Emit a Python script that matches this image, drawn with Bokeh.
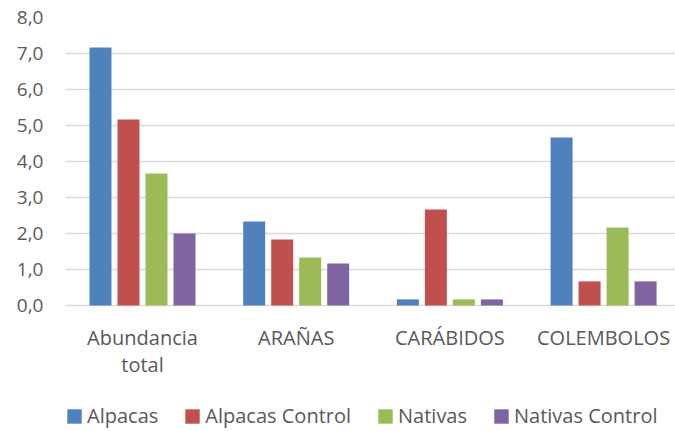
from bokeh.plotting import figure
from bokeh.models import ColumnDataSource, Range1d, FixedTicker, Legend, LegendItem
from bokeh.core.properties import value
from bokeh.transform import dodge
from bokeh.embed import file_html
from bokeh.resources import INLINE

# ---- data ----
categories = ["Abundancia\ntotal", "ARAÑAS", "CARÁBIDOS", "COLEMBOLOS"]
series_names = ["Alpacas", "Alpacas Control", "Nativas", "Nativas Control"]
alpacas = [7.17, 2.33, 0.17, 4.67]
alpacas_control = [5.17, 1.83, 2.67, 0.67]
nativas = [3.67, 1.33, 0.17, 2.17]
nativas_control = [2.0, 1.17, 0.17, 0.67]
y_ticks = [0, 1, 2, 3, 4, 5, 6, 7, 8]
y_tick_labels = ["0,0", "1,0", "2,0", "3,0", "4,0", "5,0", "6,0", "7,0", "8,0"]

colors = ["#4F81BD", "#C0504D", "#9BBB59", "#8064A2"]
FONT = "Open Sans"
TXT = "#595959"

idx = list(range(len(categories)))
source = ColumnDataSource(data=dict(
    idx=idx,
    cat=categories,
    alpacas=alpacas,
    alpacas_control=alpacas_control,
    nativas=nativas,
    nativas_control=nativas_control,
))

# plot frame spans the whole lower area so that category labels and legend
# can sit inside it; y range below 0 is just empty room for them
p = figure(
    width=675, height=431,
    x_range=Range1d(-0.501, 3.468),
    y_range=Range1d(-3.5, 8),
    output_backend="svg", toolbar_location=None,
    min_border_left=65, min_border_right=0, min_border_top=17, min_border_bottom=0,
)
p.outline_line_color = None
p.background_fill_color = "white"
p.border_fill_color = "white"

pitch = 0.1822
bar_w = 0.143
offsets = [-1.5 * pitch, -0.5 * pitch, 0.5 * pitch, 1.5 * pitch]
fields = ["alpacas", "alpacas_control", "nativas", "nativas_control"]
renderers = []
for f, off, c in zip(fields, offsets, colors):
    r = p.vbar(x=dodge("idx", off, range=p.x_range), top=f, width=bar_w,
               source=source, fill_color=c, line_color=None)
    renderers.append(r)

# category labels
p.text(x="idx", y=-0.52, text="cat", source=source,
       text_font=value(FONT), text_font_size="20px", text_color=TXT,
       text_align="center", text_baseline="top", text_line_height=1.0)

# y axis
p.yaxis.ticker = FixedTicker(ticks=y_ticks)
p.yaxis.major_label_overrides = {t: l for t, l in zip(y_ticks, y_tick_labels)}
p.yaxis.axis_line_color = None
p.yaxis.major_tick_line_color = None
p.yaxis.minor_tick_line_color = None
p.yaxis.major_tick_out = 0
p.yaxis.major_label_standoff = 22
p.yaxis.major_label_text_font = FONT
p.yaxis.major_label_text_font_size = "19px"
p.yaxis.major_label_text_color = TXT

p.xaxis.visible = False

p.xgrid.grid_line_color = None
p.ygrid.ticker = FixedTicker(ticks=y_ticks)
p.ygrid.grid_line_color = "#D9D9D9"
p.ygrid.grid_line_width = 1.4

legend = Legend(
    items=[LegendItem(label=n, renderers=[r]) for n, r in zip(series_names, renderers)],
    orientation="horizontal",
    location=(0, 2),
    padding=0, margin=0, spacing=25,
    glyph_width=18, glyph_height=18, label_standoff=4, label_height=14,
    label_text_font=FONT, label_text_font_size="20px", label_text_color=TXT,
    border_line_color=None, background_fill_alpha=0,
)
p.add_layout(legend, "center")

open("out.html", "w").write(file_html(p, INLINE))
